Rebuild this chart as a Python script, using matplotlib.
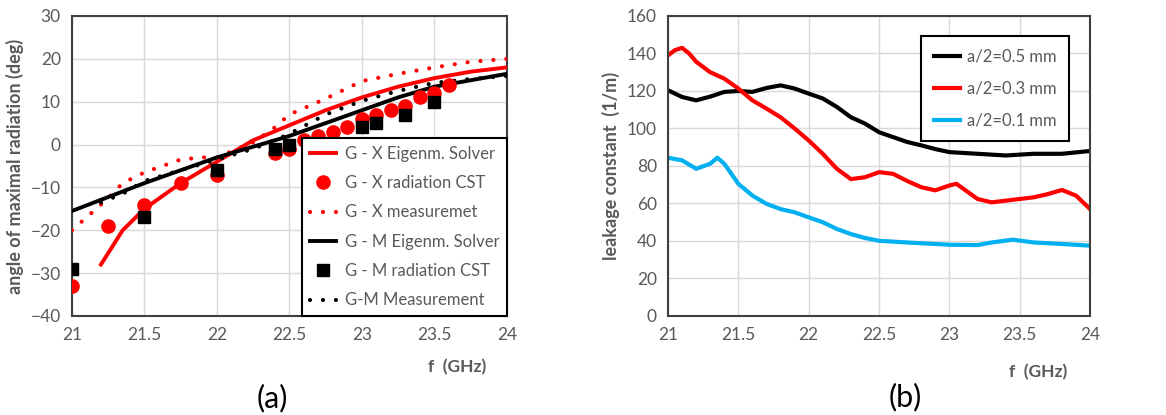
import matplotlib
matplotlib.use("Agg")
import matplotlib.pyplot as plt

plt.rcParams['font.family'] = ['Lato', 'DejaVu Sans']

# ---- panel (a): angle of maximal radiation ----
gx_eig_f = [21.2, 21.35, 21.5, 21.75, 22.0, 22.25, 22.5, 22.75, 23.0, 23.25, 23.5, 23.75, 24.0]
gx_eig_v = [-28, -20, -15, -9, -4, 1, 4.5, 8, 11, 13.5, 15.5, 17, 18]

gx_cst_f = [21.0, 21.25, 21.5, 21.75, 22.0, 22.4, 22.5, 22.6, 22.7, 22.8, 22.9, 23.0, 23.1, 23.2, 23.3, 23.4, 23.5, 23.6]
gx_cst_v = [-33, -19, -14, -9, -7, -2, -1, 1, 2, 3, 4, 6, 7, 8, 9, 11, 12, 14]

gx_meas_f = [21.0, 21.1, 21.25, 21.35, 21.5, 21.75, 21.9, 22.0, 22.25, 22.4, 22.5, 22.75, 23.0, 23.25, 23.5, 23.75, 24.0]
gx_meas_v = [-20, -17, -12.5, -9, -6.5, -3.5, -3, -3, 0.5, 4, 7, 10.7, 14.8, 16.5, 18, 19.3, 20]

gm_eig_f = [21.0, 21.5, 22.0, 22.25, 22.5, 22.75, 23.0, 23.25, 23.5, 23.75, 24.0]
gm_eig_v = [-15.5, -9, -3, -0.5, 2, 5, 8, 11, 13.5, 15, 16.5]

gm_cst_f = [21.0, 21.5, 22.0, 22.4, 22.5, 23.0, 23.1, 23.3, 23.5]
gm_cst_v = [-29, -17, -6, -1, 0, 4, 5, 7, 10]

gm_meas_f = [21.2, 21.35, 21.5, 21.75, 22.0, 22.25, 22.4, 22.5, 22.75, 23.0, 23.25, 23.5, 23.75, 24.0]
gm_meas_v = [-13.5, -11.5, -8.5, -6, -3.5, -1, 1, 2.5, 7, 10.2, 12.5, 14.4, 15.3, 16]

# ---- panel (b): leakage constant ----
b_f05 = [21.0, 21.1, 21.2, 21.3, 21.4, 21.5, 21.6, 21.7, 21.8, 21.9, 22.0, 22.1, 22.2, 22.3,
         22.4, 22.5, 22.6, 22.7, 22.8, 22.9, 23.0, 23.2, 23.4, 23.6, 23.8, 24.0]
b_v05 = [120.4, 116.8, 115, 117, 119.5, 120, 119.5, 121.6, 123, 121.3, 118.6, 116, 111.5, 106,
         102.6, 98, 95.4, 92.8, 91, 89, 87.4, 86.5, 85.6, 86.5, 86.5, 88]

b_f03 = [21.0, 21.05, 21.1, 21.15, 21.2, 21.3, 21.4, 21.5, 21.6, 21.7, 21.8, 21.9, 22.0, 22.1,
         22.2, 22.3, 22.4, 22.5, 22.6, 22.7, 22.8, 22.9, 23.0, 23.05, 23.1, 23.2, 23.3, 23.4,
         23.5, 23.6, 23.7, 23.8, 23.9, 24.0]
b_v03 = [139, 141.8, 143, 140, 135.6, 130, 126.6, 121.3, 115, 110.6, 106, 100, 93.6, 86.5,
         78.5, 73, 74, 76.7, 75.8, 72, 68.7, 67, 69.6, 70.5, 67.8, 62.4, 60.6, 61.5,
         62.4, 63.3, 65, 67.2, 64.2, 57]

b_f01 = [21.0, 21.1, 21.2, 21.3, 21.35, 21.4, 21.5, 21.6, 21.7, 21.8, 21.9, 22.0, 22.1, 22.2,
         22.3, 22.4, 22.5, 22.7, 23.0, 23.2, 23.3, 23.45, 23.6, 23.8, 24.0]
b_v01 = [84.4, 83, 78.5, 81.2, 84.4, 81.2, 70.5, 64.2, 59.8, 57, 55.3, 52.6, 50, 46.4,
         43.7, 41.6, 40.1, 39.2, 38, 37.8, 39.2, 40.7, 39.2, 38.4, 37.5]

xticks = [21, 21.5, 22, 22.5, 23, 23.5, 24]
xticklabels = ['21', '21.5', '22', '22.5', '23', '23.5', '24']

grey = '#595959'
red = '#FF0000'
blue = '#00B0F0'
dots = (0, (0.01, 3.1))

fig = plt.figure(figsize=(11.66, 4.15), dpi=100)
ax1 = fig.add_axes([0.0617, 0.2386, 0.373, 0.7229])
ax2 = fig.add_axes([0.5729, 0.2386, 0.362, 0.7229])


def style_axes(ax, ymin, ymax, ystep, ylabel):
    ax.set_xlim(21, 24)
    ax.set_ylim(ymin, ymax)
    ax.set_xticks(xticks)
    ax.set_xticklabels(xticklabels)
    ax.set_yticks(range(ymin, ymax + 1, ystep))
    ax.grid(True, color='#D9D9D9', linewidth=1.0)
    ax.set_axisbelow(True)
    ax.tick_params(length=0, labelsize=12.5, labelcolor=grey, pad=8)
    for s in ax.spines.values():
        s.set_color('#404040')
        s.set_linewidth(1.5)
    ax.set_ylabel(ylabel, fontsize=13, fontweight='bold', color=grey, labelpad=5)


style_axes(ax1, -40, 30, 10, 'angle of maximal radiation (deg)')
ax1.plot(gx_eig_f, gx_eig_v, color=red, lw=2.8, label='G - X Eigenm. Solver', zorder=3)
ax1.plot(gx_cst_f, gx_cst_v, 'o', color=red, ms=9.5, label='G - X radiation CST', zorder=4)
ax1.plot(gx_meas_f, gx_meas_v, color=red, lw=3, ls=dots, dash_capstyle='round',
         label='G - X measuremet', zorder=3)
ax1.plot(gm_eig_f, gm_eig_v, color='black', lw=2.8, label='G - M Eigenm. Solver', zorder=3)
ax1.plot(gm_cst_f, gm_cst_v, 's', color='black', ms=8, label='G - M radiation CST', zorder=5)
ax1.plot(gm_meas_f, gm_meas_v, color='black', lw=3, ls=dots, dash_capstyle='round',
         label='G-M Measurement', zorder=3)
leg1 = ax1.legend(loc='lower right', fontsize=12, frameon=True, fancybox=False,
                  borderaxespad=0, handlelength=1.6, handletextpad=0.5, labelspacing=0.8,
                  borderpad=0.45, labelcolor=grey)
leg1.get_frame().set_edgecolor('black')
leg1.get_frame().set_linewidth(1.5)
leg1.get_frame().set_alpha(1)

style_axes(ax2, 0, 160, 20, 'leakage constant  (1/m)')
ax2.plot(b_f05, b_v05, color='black', lw=3, label='a/2=0.5 mm')
ax2.plot(b_f03, b_v03, color=red, lw=3, label='a/2=0.3 mm')
ax2.plot(b_f01, b_v01, color=blue, lw=3, label='a/2=0.1 mm')
leg2 = ax2.legend(loc='upper right', fontsize=12, frameon=True, fancybox=False,
                  bbox_to_anchor=(0.97, 0.96), handlelength=1.6, handletextpad=0.4,
                  labelspacing=0.95, borderpad=0.75, labelcolor=grey)
leg2.get_frame().set_edgecolor('black')
leg2.get_frame().set_linewidth(1.5)
leg2.get_frame().set_alpha(1)

fig.text(457 / 1166, 1 - 367 / 415, 'f  (GHz)', fontsize=12.5, fontweight='bold', color=grey,
         ha='center', va='center')
fig.text(1038 / 1166, 1 - 372 / 415, 'f  (GHz)', fontsize=12.5, fontweight='bold', color=grey,
         ha='center', va='center')
fig.text(272 / 1166, 1 - 398 / 415, '(a)', fontsize=22, color='black', ha='center', va='center')
fig.text(905 / 1166, 1 - 397 / 415, '(b)', fontsize=22, color='black', ha='center', va='center')

fig.savefig('out.png', dpi=100)
